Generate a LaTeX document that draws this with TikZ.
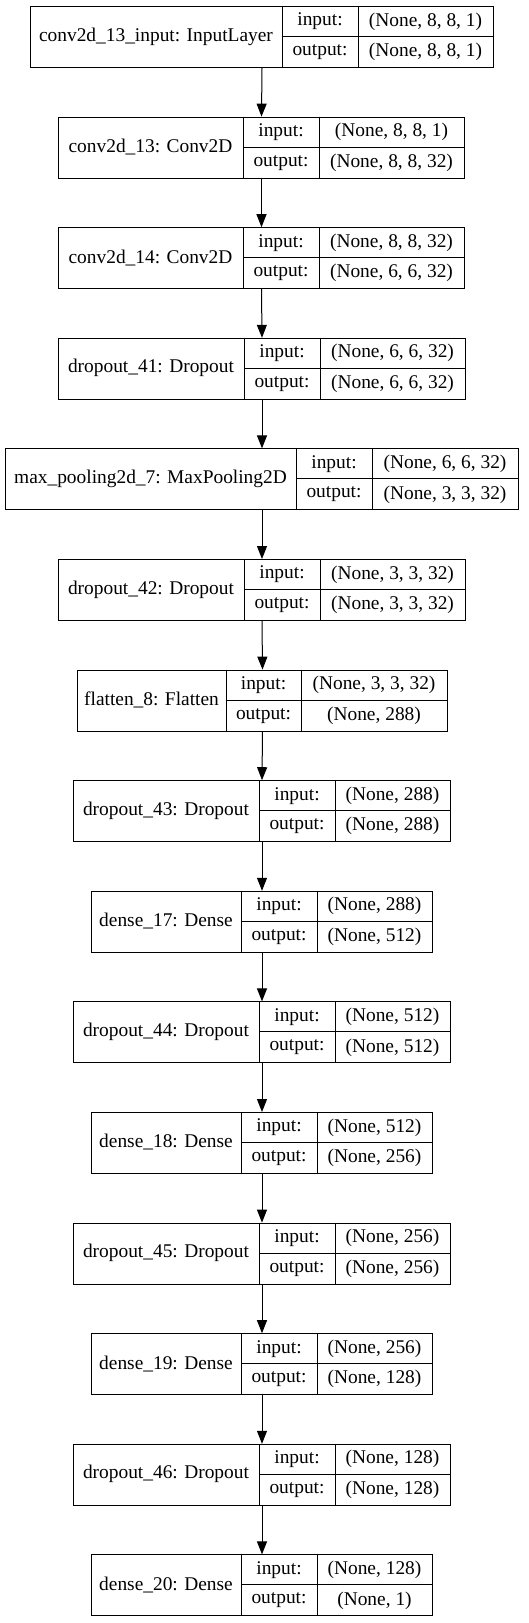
\documentclass[tikz,border=0pt]{standalone}
\usepackage{fontspec}
\setmainfont{Liberation Serif}
\usetikzlibrary{arrows.meta}

\tikzset{
  layerbox/.style = {draw, rectangle, inner sep=0pt, minimum height=61, anchor=north west},
  cell/.style = {inner sep=0pt, font=\fontsize{19.4}{23}\selectfont},
  arr/.style = {-{Triangle[length=13pt, width=10pt]}, line width=1pt}
}

% name, top, left, divider 1, divider 2, right, label, input, output
\newcommand{\kerasbox}[9]{
  \node[layerbox, minimum width={#6-#3}] (#1) at (#3,#2) {};
  \draw (#4,#2) -- (#4,#2+61);
  \draw (#5,#2) -- (#5,#2+61);
  \draw (#4,#2+30.5) -- (#6,#2+30.5);
  \node[cell] (#1-name) at ({(#3+#4)/2},#2+30.5) {#7};
  \node[cell] (#1-inl) at ({(#4+#5)/2},#2+15.5) {input:};
  \node[cell] (#1-outl) at ({(#4+#5)/2},#2+46) {output:};
  \node[cell] (#1-in) at ({(#5+#6)/2},#2+15.5) {#8};
  \node[cell] (#1-out) at ({(#5+#6)/2},#2+46) {#9};
}

\begin{document}
\begin{tikzpicture}[x=1pt, y=-1pt, line width=1pt]

    \useasboundingbox (0,0) rectangle (529,1623);

    \kerasbox{l0}{6}{30}{282}{358}{493}{conv2d\_13\_input: InputLayer}{(None, 8, 8, 1)}{(None, 8, 8, 1)}
    \kerasbox{l1}{116.6}{58}{243}{319}{464}{conv2d\_13: Conv2D}{(None, 8, 8, 1)}{(None, 8, 8, 32)}
    \kerasbox{l2}{227.2}{58}{243}{319}{464}{conv2d\_14: Conv2D}{(None, 8, 8, 32)}{(None, 6, 6, 32)}
    \kerasbox{l3}{337.8}{58}{244}{320}{465}{dropout\_41: Dropout}{(None, 6, 6, 32)}{(None, 6, 6, 32)}
    \kerasbox{l4}{448.4}{5}{296}{372}{518}{max\_pooling2d\_7: MaxPooling2D}{(None, 6, 6, 32)}{(None, 3, 3, 32)}
    \kerasbox{l5}{559}{58}{244}{320}{465}{dropout\_42: Dropout}{(None, 3, 3, 32)}{(None, 3, 3, 32)}
    \kerasbox{l6}{669.6}{77}{226}{301}{447}{flatten\_8: Flatten}{(None, 3, 3, 32)}{(None, 288)}
    \kerasbox{l7}{780.2}{73}{259}{335}{450}{dropout\_43: Dropout}{(None, 288)}{(None, 288)}
    \kerasbox{l8}{890.8}{91}{241}{317}{432}{dense\_17: Dense}{(None, 288)}{(None, 512)}
    \kerasbox{l9}{1001.4}{73}{259}{335}{450}{dropout\_44: Dropout}{(None, 512)}{(None, 512)}
    \kerasbox{l10}{1112}{91}{241}{317}{432}{dense\_18: Dense}{(None, 512)}{(None, 256)}
    \kerasbox{l11}{1222.6}{73}{259}{335}{450}{dropout\_45: Dropout}{(None, 256)}{(None, 256)}
    \kerasbox{l12}{1333.2}{91}{241}{317}{432}{dense\_19: Dense}{(None, 256)}{(None, 128)}
    \kerasbox{l13}{1443.8}{73}{259}{335}{450}{dropout\_46: Dropout}{(None, 128)}{(None, 128)}
    \kerasbox{l14}{1554.4}{91}{241}{317}{432}{dense\_20: Dense}{(None, 128)}{(None, 1)}

    % arrows
    \foreach \i [evaluate=\i as \j using int(\i+1)] in {0,...,13}
        \draw[arr] (l\i.south) -- (l\j.north);

\end{tikzpicture}
\end{document}
